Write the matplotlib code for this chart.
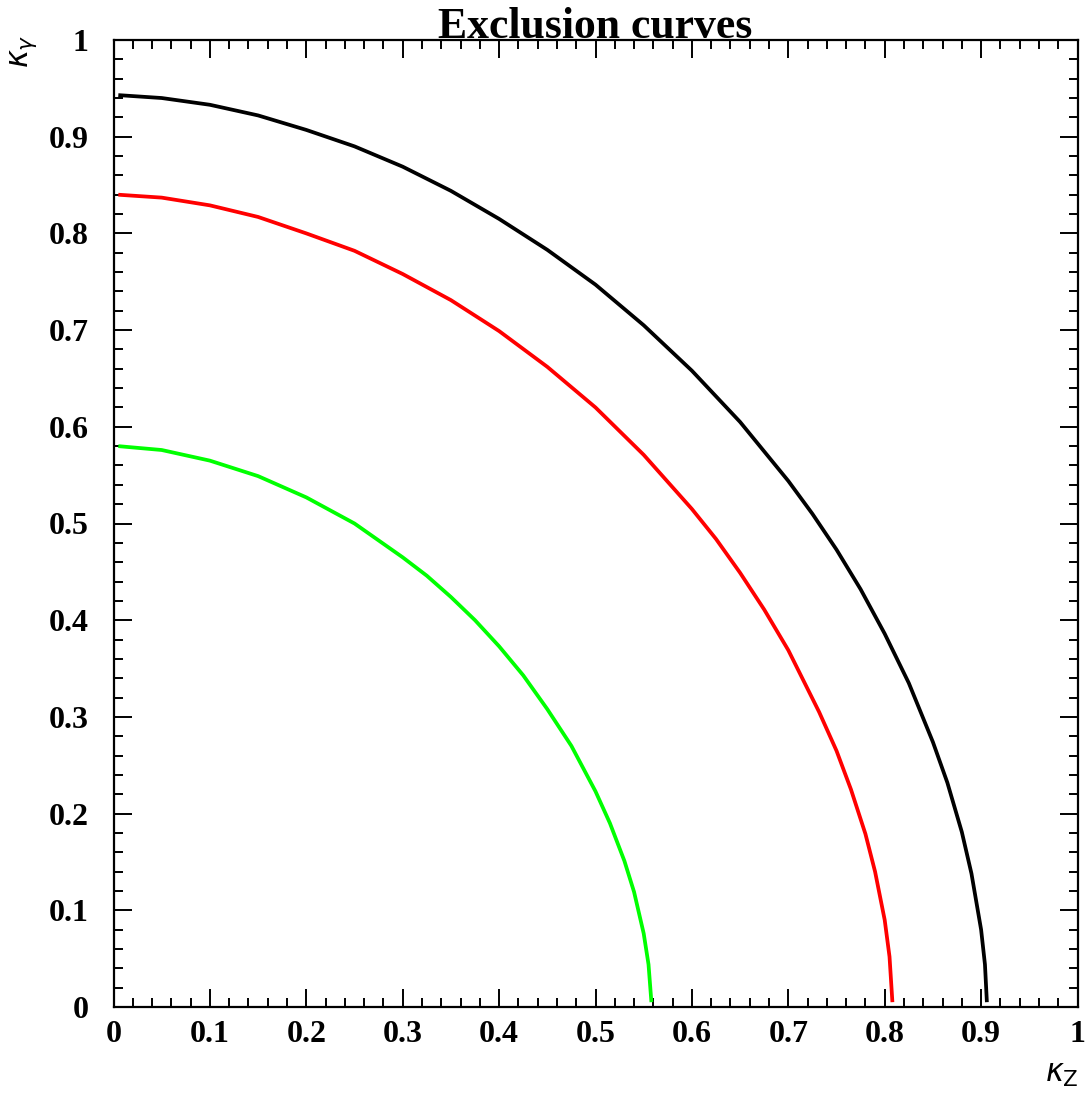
import matplotlib
matplotlib.use("Agg")
import matplotlib.pyplot as plt
from matplotlib.ticker import MultipleLocator

# ---- data ----
black_kz = [0.005, 0.05, 0.10, 0.15, 0.20, 0.25, 0.30, 0.35, 0.40, 0.45, 0.50, 0.55, 0.60,
            0.65, 0.70, 0.725, 0.75, 0.775, 0.80, 0.825, 0.85, 0.865, 0.88, 0.89, 0.90, 0.904, 0.906]
black_kg = [0.943, 0.940, 0.933, 0.922, 0.907, 0.890, 0.869, 0.844, 0.815, 0.783, 0.747, 0.705, 0.658,
            0.605, 0.544, 0.510, 0.473, 0.432, 0.386, 0.335, 0.274, 0.232, 0.181, 0.138, 0.080, 0.044, 0.005]

red_kz = [0.005, 0.05, 0.10, 0.15, 0.20, 0.25, 0.30, 0.35, 0.40, 0.45, 0.50, 0.55, 0.60, 0.625,
          0.65, 0.675, 0.70, 0.732, 0.75, 0.765, 0.78, 0.79, 0.80, 0.805, 0.808]
red_kg = [0.840, 0.837, 0.829, 0.817, 0.800, 0.782, 0.758, 0.731, 0.699, 0.662, 0.620, 0.571, 0.515, 0.484,
          0.449, 0.411, 0.369, 0.305, 0.265, 0.225, 0.179, 0.140, 0.090, 0.052, 0.005]

green_kz = [0.005, 0.05, 0.10, 0.15, 0.20, 0.25, 0.30, 0.325, 0.35, 0.375, 0.40, 0.425, 0.45,
            0.475, 0.50, 0.515, 0.53, 0.54, 0.55, 0.555, 0.558]
green_kg = [0.580, 0.576, 0.565, 0.549, 0.527, 0.500, 0.465, 0.446, 0.424, 0.400, 0.373, 0.343, 0.308,
            0.270, 0.223, 0.190, 0.151, 0.119, 0.076, 0.044, 0.005]

tick_vals = [0, 0.1, 0.2, 0.3, 0.4, 0.5, 0.6, 0.7, 0.8, 0.9, 1]
tick_labels = ["0", "0.1", "0.2", "0.3", "0.4", "0.5", "0.6", "0.7", "0.8", "0.9", "1"]

plt.rcParams["mathtext.fontset"] = "dejavusans"

W, H = 1090, 1093
fig = plt.figure(figsize=(W / 100, H / 100), dpi=100)
L, R, T, B = 113.5, 1077.5, 40, 1007
ax = fig.add_axes([L / W, (H - B) / H, (R - L) / W, (B - T) / H])

lw = 2.7
ax.plot(black_kz, black_kg, color="black", lw=lw, solid_capstyle="butt", solid_joinstyle="round")
ax.plot(red_kz, red_kg, color="#ff0000", lw=lw, solid_capstyle="butt", solid_joinstyle="round")
ax.plot(green_kz, green_kg, color="#00ff00", lw=lw, solid_capstyle="butt", solid_joinstyle="round")

ax.set_xlim(0, 1)
ax.set_ylim(0, 1)
ax.set_xticks(tick_vals)
ax.set_yticks(tick_vals)
ax.set_xticklabels(tick_labels)
ax.set_yticklabels(tick_labels)
ax.xaxis.set_minor_locator(MultipleLocator(0.02))
ax.yaxis.set_minor_locator(MultipleLocator(0.02))
ax.tick_params(which="both", direction="in", top=True, right=True, width=1.4)
ax.tick_params(which="major", length=13)
ax.tick_params(which="minor", length=6.5)
ax.tick_params(axis="x", which="major", pad=9)
ax.tick_params(axis="y", which="major", pad=18)
for lab in ax.get_xticklabels() + ax.get_yticklabels():
    lab.set_fontfamily("Liberation Serif")
    lab.set_fontweight("bold")
    lab.set_fontsize(23)
for s in ax.spines.values():
    s.set_linewidth(1.6)

fig.text(595.5 / W, 1 - 38 / H, "Exclusion curves", ha="center", va="baseline",
         fontfamily="Liberation Serif", fontweight="bold", fontsize=31.5)

fig.text(24 / W, 1 - 34 / H, r"$\kappa_{\gamma}$", rotation=90, ha="center", va="top",
         fontsize=22)
fig.text(1079 / W, 1 - 1060 / H, r"$\kappa_{\mathrm{Z}}$", ha="right", va="top", fontsize=22)

fig.savefig("out.png", dpi=100)
